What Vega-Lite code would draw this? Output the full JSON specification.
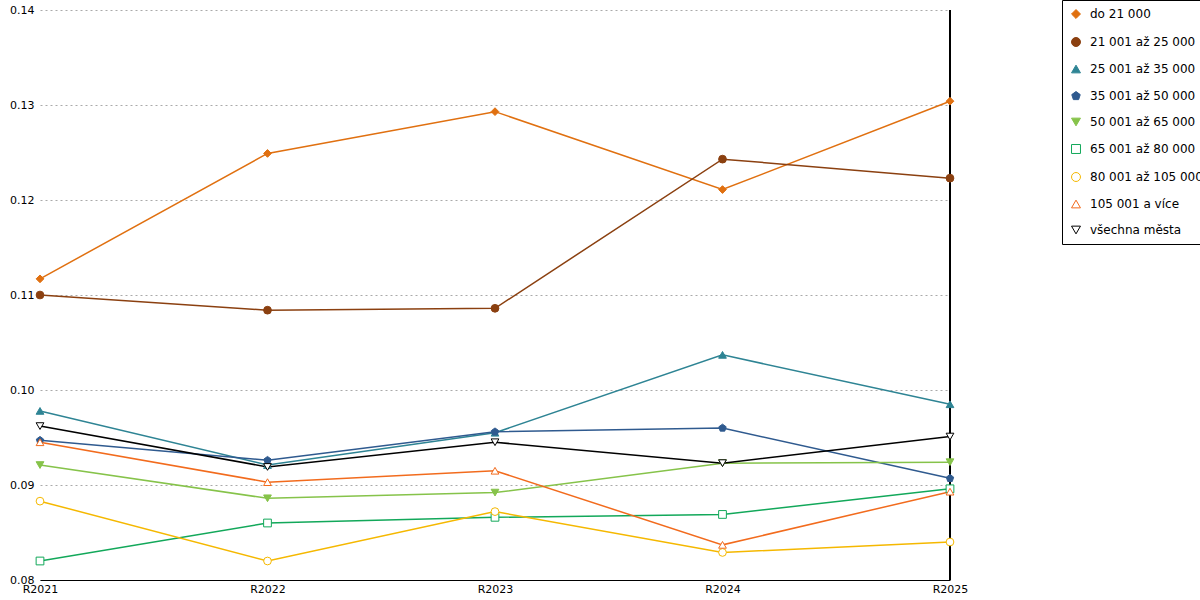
{
  "$schema": "https://vega.github.io/schema/vega-lite/v6.json",
  "autosize": "none",
  "padding": {"left": 40, "top": 10, "right": 250, "bottom": 20},
  "width": 910,
  "height": 570,
  "background": "white",
  "config": {
    "view": {"stroke": null},
    "font": "DejaVu Sans",
    "axis": {"labelFont": "DejaVu Sans", "labelFontSize": 11, "labelColor": "#000"},
    "legend": {"labelFont": "DejaVu Sans", "labelFontSize": 12, "labelColor": "#000", "orient": "none", "legendX": 1022, "legendY": -10, "strokeColor": "#000", "padding": 8, "rowPadding": 14, "symbolSize": 80, "labelOffset": 8, "symbolStrokeWidth": 1}
  },
  "data": {
    "values": [
      {"rok": "R2021", "skupina": "do 21 000", "hodnota": 0.1117},
      {"rok": "R2022", "skupina": "do 21 000", "hodnota": 0.1249},
      {"rok": "R2023", "skupina": "do 21 000", "hodnota": 0.1293},
      {"rok": "R2024", "skupina": "do 21 000", "hodnota": 0.1211},
      {"rok": "R2025", "skupina": "do 21 000", "hodnota": 0.1304},
      {"rok": "R2021", "skupina": "21 001 až 25 000", "hodnota": 0.1100},
      {"rok": "R2022", "skupina": "21 001 až 25 000", "hodnota": 0.1084},
      {"rok": "R2023", "skupina": "21 001 až 25 000", "hodnota": 0.1086},
      {"rok": "R2024", "skupina": "21 001 až 25 000", "hodnota": 0.1243},
      {"rok": "R2025", "skupina": "21 001 až 25 000", "hodnota": 0.1223},
      {"rok": "R2021", "skupina": "25 001 až 35 000", "hodnota": 0.0978},
      {"rok": "R2022", "skupina": "25 001 až 35 000", "hodnota": 0.0921},
      {"rok": "R2023", "skupina": "25 001 až 35 000", "hodnota": 0.0955},
      {"rok": "R2024", "skupina": "25 001 až 35 000", "hodnota": 0.1037},
      {"rok": "R2025", "skupina": "25 001 až 35 000", "hodnota": 0.0985},
      {"rok": "R2021", "skupina": "35 001 až 50 000", "hodnota": 0.0947},
      {"rok": "R2022", "skupina": "35 001 až 50 000", "hodnota": 0.0926},
      {"rok": "R2023", "skupina": "35 001 až 50 000", "hodnota": 0.0956},
      {"rok": "R2024", "skupina": "35 001 až 50 000", "hodnota": 0.0960},
      {"rok": "R2025", "skupina": "35 001 až 50 000", "hodnota": 0.0907},
      {"rok": "R2021", "skupina": "50 001 až 65 000", "hodnota": 0.0921},
      {"rok": "R2022", "skupina": "50 001 až 65 000", "hodnota": 0.0886},
      {"rok": "R2023", "skupina": "50 001 až 65 000", "hodnota": 0.0892},
      {"rok": "R2024", "skupina": "50 001 až 65 000", "hodnota": 0.0923},
      {"rok": "R2025", "skupina": "50 001 až 65 000", "hodnota": 0.0924},
      {"rok": "R2021", "skupina": "65 001 až 80 000", "hodnota": 0.0820},
      {"rok": "R2022", "skupina": "65 001 až 80 000", "hodnota": 0.0860},
      {"rok": "R2023", "skupina": "65 001 až 80 000", "hodnota": 0.0866},
      {"rok": "R2024", "skupina": "65 001 až 80 000", "hodnota": 0.0869},
      {"rok": "R2025", "skupina": "65 001 až 80 000", "hodnota": 0.0896},
      {"rok": "R2021", "skupina": "80 001 až 105 000", "hodnota": 0.0883},
      {"rok": "R2022", "skupina": "80 001 až 105 000", "hodnota": 0.0820},
      {"rok": "R2023", "skupina": "80 001 až 105 000", "hodnota": 0.0872},
      {"rok": "R2024", "skupina": "80 001 až 105 000", "hodnota": 0.0829},
      {"rok": "R2025", "skupina": "80 001 až 105 000", "hodnota": 0.0840},
      {"rok": "R2021", "skupina": "105 001 a více", "hodnota": 0.0945},
      {"rok": "R2022", "skupina": "105 001 a více", "hodnota": 0.0903},
      {"rok": "R2023", "skupina": "105 001 a více", "hodnota": 0.0915},
      {"rok": "R2024", "skupina": "105 001 a více", "hodnota": 0.0837},
      {"rok": "R2025", "skupina": "105 001 a více", "hodnota": 0.0893},
      {"rok": "R2021", "skupina": "všechna města", "hodnota": 0.0962},
      {"rok": "R2022", "skupina": "všechna města", "hodnota": 0.0919},
      {"rok": "R2023", "skupina": "všechna města", "hodnota": 0.0945},
      {"rok": "R2024", "skupina": "všechna města", "hodnota": 0.0923},
      {"rok": "R2025", "skupina": "všechna města", "hodnota": 0.0951}
    ]
  },
  "encoding": {
    "x": {
      "field": "rok", "type": "ordinal",
      "scale": {"type": "point", "padding": 0},
      "axis": {"title": null, "labelAngle": 0, "ticks": false, "domainColor": "#000", "labelPadding": 3}
    },
    "y": {
      "field": "hodnota", "type": "quantitative",
      "scale": {"domain": [0.08, 0.14], "zero": false, "nice": false},
      "axis": {"title": null, "format": ".2f", "tickCount": 6, "domain": false, "ticks": false, "gridDash": [2, 3], "gridColor": "#aaa", "labelPadding": 6}
    }
  },
  "layer": [
    {
      "mark": {"type": "rule", "color": "#000", "strokeWidth": 1},
      "encoding": {"x": {"datum": "R2025"}, "y": null}
    },
    {
      "mark": {"type": "line", "strokeWidth": 1.5},
      "encoding": {
        "stroke": {
          "field": "skupina", "type": "nominal", "title": null,
          "scale": {
            "domain": ["do 21 000", "21 001 až 25 000", "25 001 až 35 000", "35 001 až 50 000", "50 001 až 65 000", "65 001 až 80 000", "80 001 až 105 000", "105 001 a více", "všechna města"],
            "range": ["#e07010", "#8b4010", "#2e8494", "#2f5a8f", "#86c34a", "#12a85a", "#f5b800", "#f26b1d", "#000000"]
          }
        }
      }
    },
    {
      "mark": {"type": "point", "filled": true, "size": 60, "strokeWidth": 1, "opacity": 1},
      "encoding": {
        "stroke": {"field": "skupina", "type": "nominal", "title": null},
        "fill": {
          "field": "skupina", "type": "nominal", "title": null,
          "scale": {
            "domain": ["do 21 000", "21 001 až 25 000", "25 001 až 35 000", "35 001 až 50 000", "50 001 až 65 000", "65 001 až 80 000", "80 001 až 105 000", "105 001 a více", "všechna města"],
            "range": ["#e07010", "#8b4010", "#2e8494", "#2f5a8f", "#86c34a", "#ffffff", "#ffffff", "#ffffff", "#ffffff"]
          }
        },
        "shape": {
          "field": "skupina", "type": "nominal", "title": null,
          "scale": {
            "domain": ["do 21 000", "21 001 až 25 000", "25 001 až 35 000", "35 001 až 50 000", "50 001 až 65 000", "65 001 až 80 000", "80 001 až 105 000", "105 001 a více", "všechna města"],
            "range": ["diamond", "circle", "triangle-up", "M0,-1L0.95,-0.31L0.59,0.81L-0.59,0.81L-0.95,-0.31Z", "triangle-down", "square", "circle", "triangle-up", "triangle-down"]
          }
        }
      }
    }
  ]
}
